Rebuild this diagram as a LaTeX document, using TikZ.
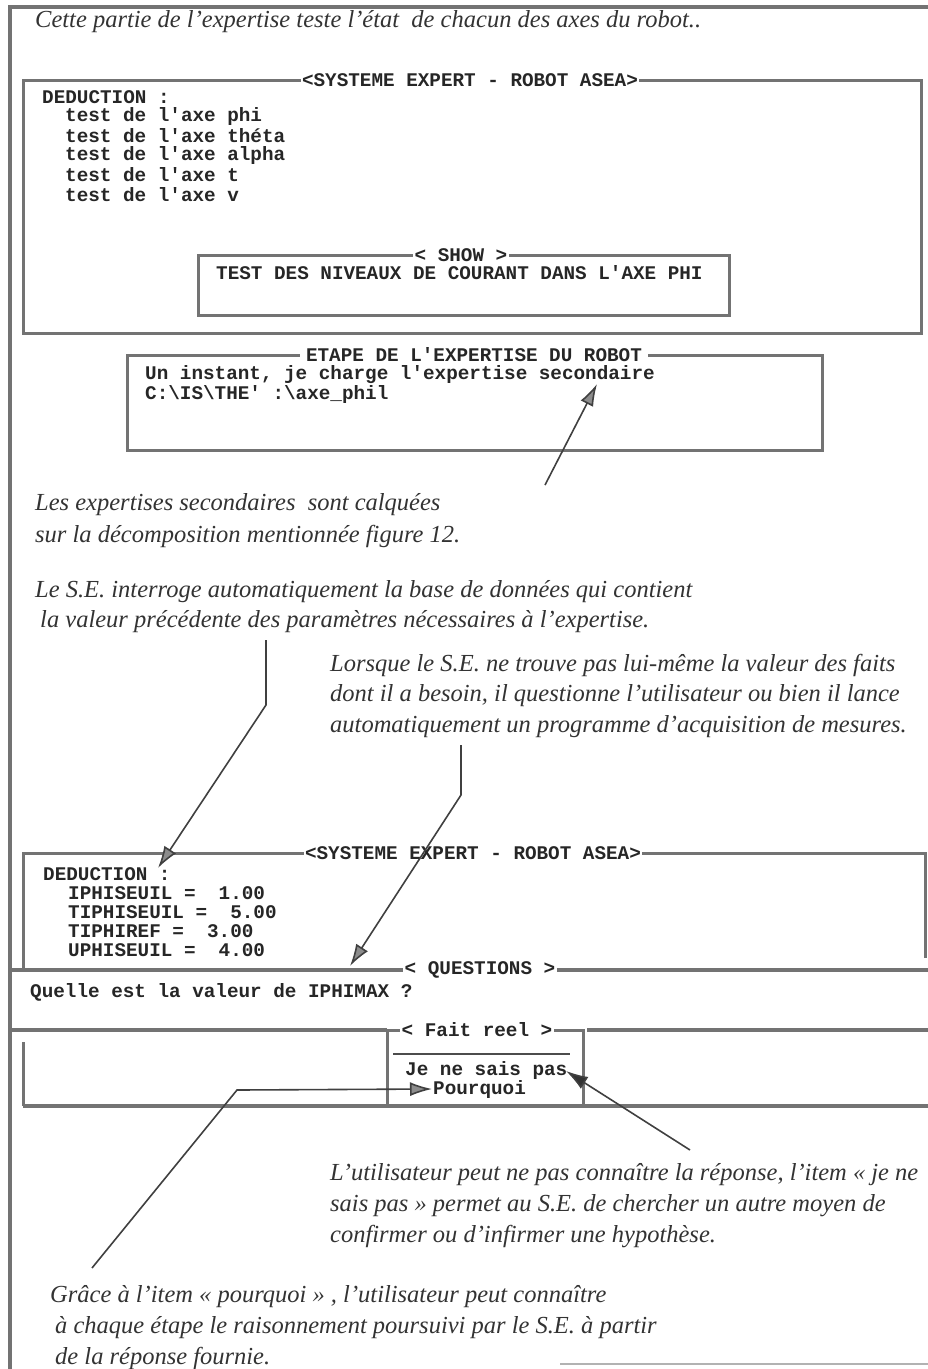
\documentclass[tikz,border=0pt]{standalone}
\usepackage{fontspec}
\setmainfont{Liberation Serif}
\newfontfamily\termfont{Liberation Mono}
\usetikzlibrary{arrows.meta}
\tikzset{
  win/.style={draw=black!55, line width=3pt},
  winrule/.style={draw=black!55, line width=3.5pt},
  sepline/.style={draw=black!70, line width=1.4pt},
  term/.style={font=\termfont\bfseries\fontsize{19.3}{19.3}\selectfont, inner sep=0pt, anchor=west, text=black!85},
  wintitle/.style={term, anchor=center, fill=white, inner xsep=1.5pt, inner ysep=0pt},
  note/.style={font=\itshape\fontsize{24.5}{24.5}\selectfont, inner sep=0pt, anchor=west, text=black!80},
  pointer/.style={draw=black!75, line width=1.6pt, -{Latex[length=22pt,width=14pt,fill=black!45]}},
}
\begin{document}
\begin{tikzpicture}[x=1pt,y=-1pt]
\useasboundingbox (0,0) rectangle (928,1369);
\fill[white] (0,0) rectangle (928,1369);

% page frame
\draw[win, line width=3.2pt] (10,1375) -- (10,7) -- (935,7);
\draw[black!30, line width=2pt] (560,1364) -- (935,1364);

\node[note] (intro) at (35,22) {Cette partie de l'expertise teste l'état\ \ de chacun des axes du robot..};

% ---- main window: axis list ----
\draw[win] (23,80) rectangle (921,333);
\node[wintitle] (t1) at (470,80) {<SYSTEME EXPERT - ROBOT ASEA>};
\node[term] (ded1) at (42,97) {DEDUCTION :};
\node[term] (ax1) at (65,116.5) {test de l'axe phi};
\node[term] (ax2) at (65,136) {test de l'axe théta};
\node[term] (ax3) at (65,155.5) {test de l'axe alpha};
\node[term] (ax4) at (65,175) {test de l'axe t};
\node[term] (ax5) at (65,194.5) {test de l'axe v};

% SHOW window
\draw[win] (198,255) rectangle (729,315);
\node[wintitle] (tshow) at (461,255) {< SHOW >};
\node[term] (show) at (216,273) {TEST DES NIVEAUX DE COURANT DANS L'AXE PHI};

% ---- loading window ----
\draw[win] (127,355) rectangle (822,450);
\node[wintitle, inner xsep=6pt] (tetape) at (474,355) {ETAPE DE L'EXPERTISE DU ROBOT};
\node[term] (load1) at (145,375) {Un instant, je charge l'expertise secondaire};
\node[term] (load2) at (145,394) {C:\textbackslash IS\textbackslash THE' :\textbackslash axe\_phil};

\node[note] (n1a) at (35,505) {Les expertises secondaires\ \ sont calquées};
\node[note] (n1b) at (35,536) {sur la décomposition mentionnée figure 12.};

\node[note] (n2a) at (35,592) {Le S.E. interroge automatiquement la base de données qui contient};
\node[note] (n2b) at (40,622) {la valeur précédente des paramètres nécessaires à l'expertise.};

\node[note] (n3a) at (330,665) {Lorsque le S.E. ne trouve pas lui-même la valeur des faits};
\node[note] (n3b) at (330,696) {dont il a besoin, il questionne l'utilisateur ou bien il lance};
\node[note] (n3c) at (330,727) {automatiquement un programme d'acquisition de mesures.};

% ---- second window: known values ----
\draw[win] (23,970) -- (23,853) -- (925,853) -- (925,958);
\node[wintitle] (t2) at (473,853) {<SYSTEME EXPERT - ROBOT ASEA>};
\node[term] (ded2) at (43,874) {DEDUCTION :};
\node[term] (v1) at (68,893) {IPHISEUIL =~~1.00};
\node[term] (v2) at (68,912) {TIPHISEUIL =~~5.00};
\node[term] (v3) at (68,931) {TIPHIREF =~~3.00};
\node[term] (v4) at (68,950) {UPHISEUIL =~~4.00};

% questions bar
\draw[winrule] (12,970) -- (935,970);
\node[wintitle] (tq) at (480,970) {< QUESTIONS >};
\node[term] (quest) at (30,992) {Quelle est la valeur de IPHIMAX ?};

% answer bar and menu
\draw[winrule] (12,1030) -- (387,1030);
\draw[winrule] (587,1030) -- (935,1030);
\draw[win] (23,1042) -- (23,1106);
\draw[winrule] (23,1106) -- (935,1106);
\draw[win] (387,1030) rectangle (583,1106);
\node[wintitle] (tfait) at (477,1030) {< Fait reel >};
\draw[sepline] (393,1054) -- (570,1054);
\node[term] (ans1) at (405,1070) {Je ne sais pas};
\node[term] (ans2) at (433,1089) {Pourquoi};

\node[note] (n4a) at (330,1175) {L'utilisateur peut ne pas connaître la réponse, l'item « je ne};
\node[note] (n4b) at (330,1206) {sais pas » permet au S.E. de chercher un autre moyen de};
\node[note] (n4c) at (330,1237) {confirmer ou d'infirmer une hypothèse.};

\node[note] (n5a) at (50,1297) {Grâce à l'item « pourquoi » , l'utilisateur peut connaître};
\node[note] (n5b) at (55,1328) {à chaque étape le raisonnement poursuivi par le S.E. à partir};
\node[note] (n5c) at (55,1358) {de la réponse fournie.};

% connector end points
\coordinate (p1s) at (545,485);
\coordinate (p1e) at (597,384);
\coordinate (p2s) at (266,640);
\coordinate (p2k) at (266,705);
\coordinate (p2e) at (158,868);
\coordinate (p3s) at (461,745);
\coordinate (p3k) at (461,795);
\coordinate (p3e) at (350,966);
\coordinate (p4s) at (690,1150);
\coordinate (p4e) at (566,1071);
\coordinate (p5s) at (92,1268);
\coordinate (p5k) at (237,1090);
\coordinate (p5e) at (432,1089);

\draw[pointer] (p1s) -- (p1e);
\draw[pointer] (p2s) -- (p2k) -- (p2e);
\draw[pointer] (p3s) -- (p3k) -- (p3e);
\draw[pointer, -{Latex[length=22pt,width=14pt,fill=black!80]}] (p4s) -- (p4e);
\draw[pointer] (p5s) -- (p5k) -- (p5e);
\end{tikzpicture}
\end{document}
